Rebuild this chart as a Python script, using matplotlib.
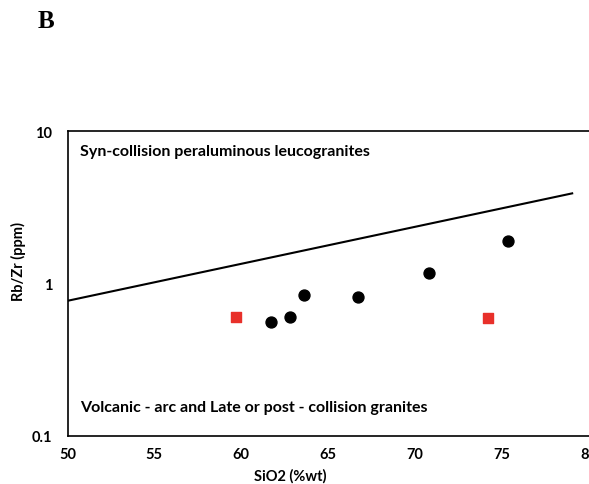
import matplotlib.pyplot as plt

# Dati
sio2_granite = [61.7, 62.8, 63.6, 66.7, 70.8, 75.35]
rbzr_granite = [0.56, 0.60, 0.84, 0.82, 1.18, 1.90]

sio2_other = [59.7, 74.2]
rbzr_other = [0.60, 0.59]

# Linea di separazione
line_x = [50, 79.06]
line_y = [0.77, 3.9]

plt.rcParams['font.family'] = ['Lato', 'DejaVu Sans']

fig = plt.figure(figsize=(5.89, 4.85), dpi=100)
ax = fig.add_axes([67.5 / 589, 48 / 485, 521 / 589, 305 / 485])

ax.plot(line_x, line_y, color='black', lw=1.5)
ax.scatter(sio2_granite, rbzr_granite, color='black', marker='o', s=62, zorder=3)
ax.scatter(sio2_other, rbzr_other, color='#e8302a', marker='s', s=52, zorder=3)

ax.set_yscale('log')
ax.set_xlim(50, 80)
ax.set_ylim(0.1, 10)
ax.set_xticks([50, 55, 60, 65, 70, 75, 80])
ax.set_yticks([0.1, 1, 10])
ax.set_yticklabels(['0.1', '1', '10'])
ax.minorticks_off()
ax.tick_params(length=0, labelsize=10.5)
ax.tick_params(axis='y', pad=11)
ax.tick_params(axis='x', pad=8)
for lab in ax.get_xticklabels() + ax.get_yticklabels():
    lab.set_fontweight('bold')

ax.spines['right'].set_visible(False)
for s in ['top', 'left', 'bottom']:
    ax.spines[s].set_linewidth(1.2)

ax.set_xlabel('SiO2 (%wt)', fontsize=10.5, fontweight='bold', labelpad=4)
ax.xaxis.set_label_coords(0.427, -0.105)
ax.set_ylabel('Rb/Zr (ppm)', fontsize=10.5, fontweight='bold')
ax.yaxis.set_label_coords(-0.08, 0.574)

ax.text(0.024, 0.935, 'Syn-collision peraluminous leucogranites', transform=ax.transAxes,
        fontsize=11.5, fontweight='bold', va='center', ha='left')
ax.text(0.024, 0.095, 'Volcanic - arc and Late or post - collision granites', transform=ax.transAxes,
        fontsize=11.5, fontweight='bold', va='center', ha='left')

fig.text(38 / 589, 1 - 22 / 485, 'B', fontsize=18, fontweight='bold',
         family='Liberation Serif', va='center', ha='left')

fig.savefig('out.png', dpi=100)
